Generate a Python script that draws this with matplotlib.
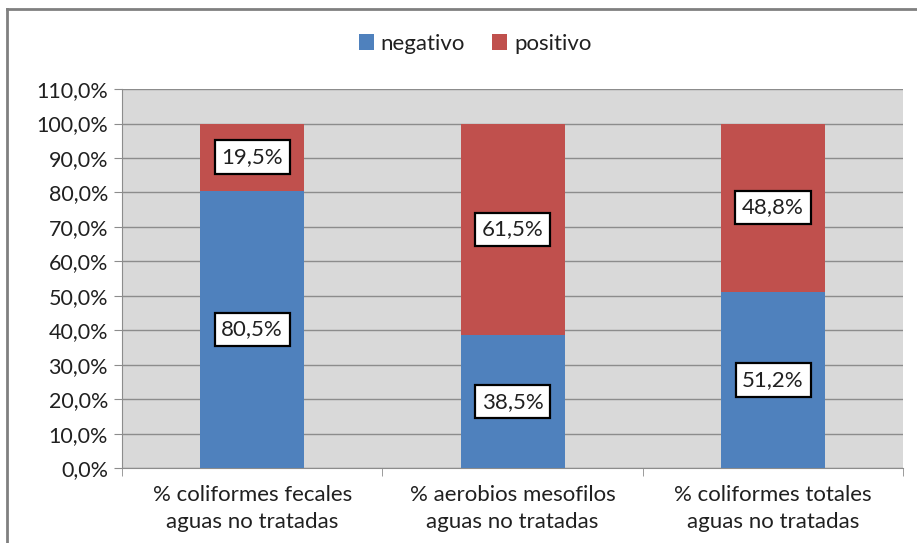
import matplotlib
matplotlib.use("Agg")
import matplotlib.pyplot as plt
import matplotlib.ticker as mticker
from matplotlib.lines import Line2D
import numpy as np

plt.rcParams['font.family'] = ['Lato', 'DejaVu Sans']

categories = ["% coliformes fecales\naguas no tratadas",
              "% aerobios mesofilos\naguas no tratadas",
              "% coliformes totales\naguas no tratadas"]
negativo = [80.5, 38.5, 51.2]
positivo = [19.5, 61.5, 48.8]

BLUE = "#4F81BD"
RED = "#C0504D"
TXT = "#202020"


def pct(v):
    return f"{v:.1f}".replace(".", ",") + "%"


fig = plt.figure(figsize=(9.17, 5.43), dpi=100)
ax = fig.add_axes([0.133, 0.138, 0.852, 0.698])
ax.set_facecolor("#D9D9D9")

x = np.arange(len(categories))
ax.bar(x, negativo, 0.4, color=BLUE, label="negativo", zorder=3)
ax.bar(x, positivo, 0.4, bottom=negativo, color=RED, label="positivo", zorder=3)

box = dict(boxstyle="square,pad=0.3", fc="white", ec="black", lw=1.6)
for i in range(len(categories)):
    ax.text(x[i], negativo[i] / 2, pct(negativo[i]), ha="center", va="center",
            fontsize=16, color=TXT, bbox=box, zorder=4)
    ax.text(x[i], negativo[i] + positivo[i] / 2, pct(positivo[i]), ha="center",
            va="center", fontsize=16, color=TXT, bbox=box, zorder=4)

ax.set_xlim(-0.5, 2.5)
ax.set_ylim(0, 110)
ax.yaxis.set_major_locator(mticker.MultipleLocator(10))
ax.yaxis.set_major_formatter(mticker.FuncFormatter(lambda v, _: pct(v)))
ax.grid(True, axis="y", color="#8C8C8C", lw=1, zorder=1)

ax.set_xticks(x)
ax.set_xticklabels(categories, color=TXT, linespacing=1.45)
ax.set_xticks([-0.5, 0.5, 1.5, 2.5], minor=True)
ax.tick_params(axis="x", which="major", length=0, pad=12, labelsize=16)
ax.tick_params(axis="x", which="minor", length=6, color="#8C8C8C")
ax.tick_params(axis="y", length=6, color="#8C8C8C", labelsize=15.5, labelcolor=TXT, pad=4)

for s in ["top", "right"]:
    ax.spines[s].set_visible(False)
for s in ["left", "bottom"]:
    ax.spines[s].set_color("#8C8C8C")

leg = ax.legend(loc="center", bbox_to_anchor=(0.518, 0.919), bbox_transform=fig.transFigure,
                ncol=2, frameon=False, fontsize=16, handlelength=0.7, handleheight=0.7,
                handletextpad=0.3, columnspacing=1.2)
for t in leg.get_texts():
    t.set_color(TXT)

# chart border
fig.add_artist(Line2D([7 / 917, 7 / 917], [0, 1 - 9 / 543], color="#808080", lw=2))
fig.add_artist(Line2D([7 / 917, 1], [1 - 9 / 543, 1 - 9 / 543], color="#808080", lw=2))

fig.savefig("out.png", dpi=100)
